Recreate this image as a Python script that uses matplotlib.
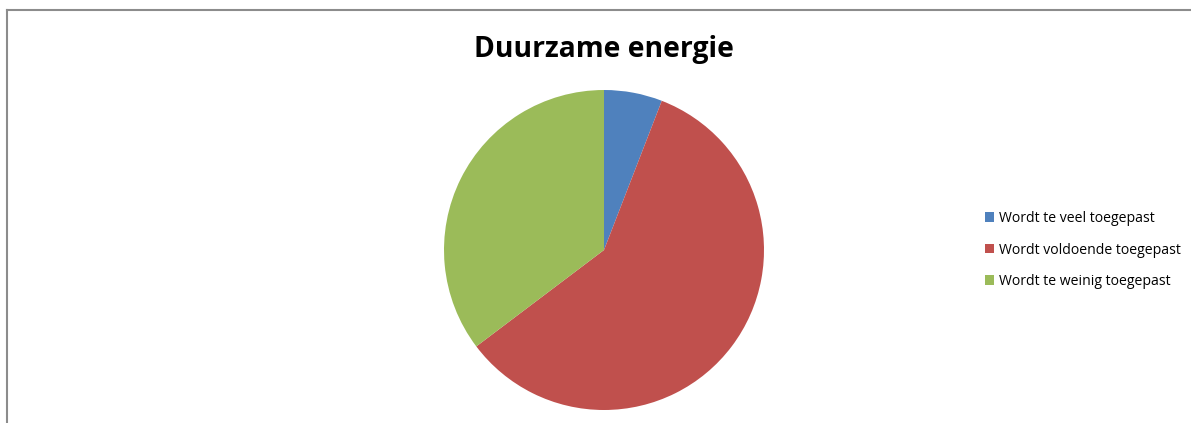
import matplotlib.pyplot as plt
from matplotlib.lines import Line2D
from matplotlib.patches import Patch

title = "Duurzame energie"
labels = ["Wordt te veel toegepast", "Wordt voldoende toegepast", "Wordt te weinig toegepast"]
values = [1, 10, 6]
colors = ["#4F81BD", "#C0504D", "#9BBB59"]

W, H = 1191, 423
fig = plt.figure(figsize=(W / 100, H / 100), dpi=100)

# chart border (top and left visible)
fig.add_artist(Line2D([6.5 / W, 6.5 / W], [0, 1 - 10.5 / H], color="#8c8c8c", linewidth=1.5))
fig.add_artist(Line2D([6.5 / W, 1], [1 - 10.5 / H, 1 - 10.5 / H], color="#8c8c8c", linewidth=1.5))

cx, cy, r = 604, 250, 160
ax = fig.add_axes([(cx - r) / W, 1 - (cy + r) / H, 2 * r / W, 2 * r / H])
ax.pie(values, colors=colors, startangle=90, counterclock=False,
       wedgeprops=dict(linewidth=0), radius=1)
ax.set_xlim(-1, 1)
ax.set_ylim(-1, 1)
ax.set_aspect("equal")
ax.axis("off")

fig.text(cx / W, 1 - 50 / H, title, ha="center", va="center",
         fontsize=20.3, fontweight="bold", family="Open Sans")

handles = [Patch(facecolor=c, edgecolor="none") for c in colors]
fig.legend(handles, labels, loc="center left", bbox_to_anchor=(985 / W, 1 - 250 / H),
           frameon=False, prop=dict(family="Open Sans", size=10.1),
           handlelength=0.65, handleheight=0.65, handletextpad=0.35, labelspacing=1.18,
           borderpad=0, borderaxespad=0)

fig.savefig("out.png", dpi=100)
